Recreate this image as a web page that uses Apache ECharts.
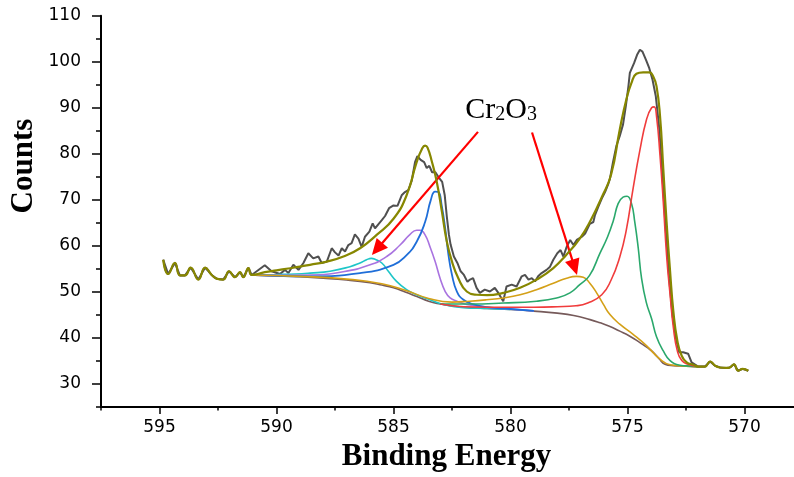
<!DOCTYPE html>
<html><head><meta charset="utf-8">
<script src="https://cdn.jsdelivr.net/npm/echarts@6.0.0/dist/echarts.min.js"></script>
<style>html,body{margin:0;padding:0;background:#fff;overflow:hidden;width:794px;height:477px}#c{width:803px;height:477px}</style>
</head><body><div id="c"></div>
<script>
// Experimental spectrum: flat tails (shared by envelope/background) and middle part
const leftTail = [[594.84,57.0],[594.63,53.9],[594.34,56.3],[594.13,53.6],[593.91,53.6],[593.67,55.3],[593.34,52.7],[593.05,55.3],[592.77,53.7],[592.56,52.9],[592.28,52.7],[592.03,54.5],[591.77,53.2],[591.56,54.3],[591.42,53.2],[591.2,55.2],[591.06,53.7]];
const rightTail = [[571.98,33.8],[571.69,33.8],[571.47,34.9],[571.26,34.0],[571.05,33.6],[570.77,33.5],[570.63,33.6],[570.45,34.3],[570.27,32.9],[570.08,33.3],[569.84,32.9]];
const spectrumMid = [[590.5,55.8],[590.21,54.5],[589.85,53.9],[589.64,54.8],[589.49,54.1],[589.28,55.9],[589.06,54.8],[588.85,56.3],[588.64,58.4],[588.43,57.3],[588.21,57.7],[588.07,56.3],[587.85,56.6],[587.64,59.5],[587.5,58.6],[587.35,57.9],[587.21,59.5],[587.07,58.8],[586.93,60.2],[586.79,60.6],[586.65,62.5],[586.5,61.6],[586.36,59.8],[586.22,62.0],[586.03,63.1],[585.89,64.9],[585.79,63.8],[585.65,64.7],[585.5,65.6],[585.36,66.5],[585.19,68.2],[585.0,68.8],[584.83,68.7],[584.65,71.0],[584.51,71.7],[584.37,72.1],[584.22,74.2],[584.08,78.2],[583.98,79.5],[583.84,78.7],[583.69,78.2],[583.58,76.9],[583.47,77.4],[583.35,76.0],[583.21,76.0],[583.07,74.9],[582.92,73.9],[582.81,71.0],[582.72,66.3],[582.63,62.4],[582.56,60.3],[582.42,57.7],[582.27,56.3],[582.13,54.5],[581.99,53.7],[581.84,52.2],[581.73,52.7],[581.6,53.0],[581.45,50.9],[581.31,49.8],[581.1,50.5],[580.88,50.1],[580.67,50.9],[580.52,49.8],[580.31,48.0],[580.17,51.2],[579.95,51.6],[579.74,51.2],[579.52,53.4],[579.38,53.7],[579.23,52.7],[579.09,53.0],[578.95,52.3],[578.82,53.4],[578.67,54.1],[578.46,54.8],[578.31,55.5],[578.17,57.0],[578.0,58.4],[577.86,59.1],[577.74,57.7],[577.6,59.8],[577.45,61.3],[577.31,60.2],[577.17,61.3],[576.95,62.0],[576.81,62.7],[576.61,64.8],[576.46,65.2],[576.39,66.7],[576.25,68.5],[576.1,70.3],[575.96,71.7],[575.82,73.5],[575.75,74.6],[575.62,78.2],[575.47,81.8],[575.33,83.9],[575.19,86.4],[575.07,90.4],[574.96,94.7],[574.9,97.6],[574.82,97.2],[574.72,99.7],[574.59,101.5],[574.47,102.6],[574.36,102.2],[574.21,100.4],[574.07,98.6],[573.93,96.1],[573.79,92.5],[573.64,85.4],[573.5,74.6],[573.37,63.8],[573.22,53.0],[573.08,45.1],[572.94,40.1],[572.79,36.9],[572.62,36.9],[572.41,36.6],[572.26,34.7]];
const envelopeMid = [[590.5,54.3],[590.0,54.7],[589.5,55.1],[589.0,55.5],[588.57,55.9],[587.85,56.6],[587.14,57.7],[586.43,59.5],[585.72,62.4],[585.0,65.9],[584.44,71.0],[584.01,78.2],[583.79,81.0],[583.65,81.8],[583.55,81.4],[583.37,78.5],[583.15,73.9],[582.93,67.4],[582.72,60.9],[582.5,56.6],[582.23,53.0],[581.87,50.1],[581.44,49.4],[581.0,49.3],[580.31,49.8],[579.59,50.9],[578.88,52.7],[578.17,55.2],[577.61,58.1],[577.04,61.6],[576.55,65.8],[576.1,70.6],[575.7,75.5],[575.33,85.3],[575.05,91.8],[574.83,95.4],[574.62,97.4],[574.33,97.7],[574.07,97.7],[573.9,96.8],[573.76,94.7],[573.61,88.2],[573.47,76.7],[573.33,65.2],[573.18,54.5],[573.04,45.8],[572.87,39.4],[572.68,36.1],[572.47,34.7],[572.18,34.2]];
const backgroundMid = [[590.0,53.5],[589.0,53.3],[588.0,53.0],[587.0,52.6],[586.0,52.0],[585.5,51.5],[585.0,50.9],[584.5,50.0],[584.0,49.0],[583.5,48.0],[583.0,47.4],[582.5,47.0],[582.0,46.7],[581.0,46.4],[580.0,46.2],[579.0,45.85],[578.0,45.4],[577.3,44.9],[576.6,44.0],[576.17,43.3],[575.8,42.6],[575.33,41.5],[574.9,40.4],[574.47,39.0],[574.15,37.9],[573.9,36.9],[573.65,35.5],[573.4,34.3],[573.05,34.0],[572.5,33.9]];
const peakCyan = [[591.06,53.7],[590.0,53.8],[589.2,53.9],[588.57,54.1],[587.71,54.5],[586.86,55.5],[586.43,56.3],[586.15,57.0],[585.95,57.3],[585.79,57.1],[585.5,56.3],[585.22,54.5],[584.87,52.3],[584.44,50.5],[584.01,49.4],[583.44,48.3],[582.86,47.3],[582.01,46.6],[581.0,46.4],[580.0,46.2]];
const peakPurple = [[591.06,53.7],[590.0,53.6],[588.57,53.7],[587.15,54.4],[586.0,55.9],[585.29,57.7],[584.72,60.2],[584.29,62.5],[584.01,63.4],[583.86,63.4],[583.65,62.4],[583.44,59.8],[583.22,56.6],[583.01,53.0],[582.79,50.1],[582.58,48.7],[582.29,48.0],[581.87,47.3],[581.0,46.7],[580.0,46.3],[579.0,45.9]];
const peakBlue = [[591.06,53.7],[590.0,53.5],[588.57,53.4],[586.43,54.1],[585.0,55.9],[584.44,58.0],[584.01,60.9],[583.65,65.2],[583.41,69.9],[583.22,71.8],[583.08,71.7],[582.94,68.8],[582.79,63.8],[582.65,58.0],[582.5,53.7],[582.29,50.1],[582.01,48.3],[581.58,47.3],[581.0,46.7],[580.0,46.3],[579.0,45.9]];
const peakGold = [[591.06,53.7],[589.0,53.4],[587.0,52.8],[585.5,51.8],[584.5,50.4],[583.5,48.6],[582.5,47.8],[581.74,48.0],[581.02,48.3],[580.31,48.7],[579.59,49.4],[578.89,50.5],[578.17,51.9],[577.6,53.0],[577.18,53.4],[576.89,53.2],[576.61,51.9],[576.32,49.8],[576.03,47.3],[575.75,45.1],[575.33,43.0],[574.76,40.8],[574.18,38.3],[573.61,35.4],[573.18,34.2],[572.5,33.9],[571.98,33.8]];
const peakGreen = [[583.0,47.4],[581.74,47.4],[580.31,47.6],[578.89,48.0],[578.03,48.7],[577.46,49.8],[577.04,51.6],[576.62,53.6],[576.18,58.4],[575.85,62.0],[575.6,65.6],[575.4,69.2],[575.19,70.6],[575.02,70.8],[574.83,69.2],[574.69,65.2],[574.54,59.5],[574.4,53.0],[574.2,47.8],[573.97,44.2],[573.76,40.3],[573.47,37.2],[573.18,35.1],[572.76,34.1],[572.3,33.9],[571.98,33.8]];
const peakRed = [[583.0,47.4],[582.0,46.8],[581.0,46.7],[580.0,46.7],[579.0,46.7],[578.0,46.8],[577.2,47.0],[576.7,47.6],[576.1,49.4],[575.7,52.6],[575.33,57.6],[575.05,63.5],[574.76,72.5],[574.47,80.8],[574.19,87.4],[573.97,90.0],[573.86,90.2],[573.76,88.2],[573.61,79.6],[573.47,69.5],[573.33,58.0],[573.18,49.4],[573.04,42.3],[572.87,37.2],[572.68,35.1],[572.41,34.3],[571.98,33.8]];
// Annotation (data coordinates)
const annotationText = 'Cr{s|2}O{s|3}';
const annotationPos = [580.4, 86.3];
const arrowLeft = [[581.39, 84.77], [585.70, 59.35]];
const arrowRight = [[579.08, 84.64], [577.26, 55.36]];

const spectrum = leftTail.concat(spectrumMid, rightTail);
const envelope = leftTail.concat(envelopeMid, rightTail);
const background = leftTail.concat(backgroundMid, rightTail);

function curve(name, data, color, width, smooth, z) {
  return {type:'line', name, data, symbol:'none', smooth,
    lineStyle:{color, width}, itemStyle:{color}, silent:true, z, xAxisIndex:0, yAxisIndex:0};
}
const chart = echarts.init(document.getElementById('c'), null, {renderer:'canvas', width:803, height:477});
const labelFont = {fontFamily:'"DejaVu Sans", sans-serif', fontSize:17, color:'#000'};
const gray = curve('Data', spectrum, '#505050', 2, false, 2);
gray.markLine = {
  silent:true, symbol:['none','triangle'], symbolSize:[15,16], label:{show:false},
  lineStyle:{color:'#ff0000', width:2.2, type:'solid'},
  emphasis:{disabled:true},
  data:[[{coord:arrowLeft[0]},{coord:arrowLeft[1]}],[{coord:arrowRight[0]},{coord:arrowRight[1]}]]
};
gray.markPoint = {
  silent:true, symbol:'circle', symbolSize:0, itemStyle:{color:'transparent'},
  data:[{coord:annotationPos}],
  label:{show:true, position:'inside', formatter:annotationText, color:'#000',
    fontFamily:'"Liberation Serif", serif', fontSize:30, lineHeight:30, verticalAlign:'bottom',
    rich:{s:{fontFamily:'"Liberation Serif", serif', fontSize:20, lineHeight:16, verticalAlign:'bottom', color:'#000'}}}
};
chart.setOption({
  animation:false,
  backgroundColor:'#fff',
  grid:{left:101, right:0, top:15.7, bottom:67.1, containLabel:false},
  xAxis:[{
    type:'value', position:'bottom', inverse:true, min:567.5, max:597.5, splitNumber:6,
    name:'Binding Energy', nameLocation:'middle', nameGap:33,
    nameTextStyle:{fontFamily:'"Liberation Serif", serif', fontWeight:'bold', fontSize:31, color:'#000', padding:[0,11,0,0]},
    axisLine:{show:true, onZero:false, lineStyle:{color:'#000', width:2}},
    axisTick:{show:true, length:7, lineStyle:{color:'#000', width:1.5}},
    axisLabel:Object.assign({margin:12, showMinLabel:false, showMaxLabel:false}, labelFont),
    splitLine:{show:false}
  },{
    type:'value', position:'bottom', inverse:true, min:567.5, max:597.5, interval:2.5,
    axisLine:{show:false}, axisTick:{show:true, length:3.5, lineStyle:{color:'#000', width:1.5}},
    axisLabel:{show:false}, splitLine:{show:false}
  }],
  yAxis:[{
    type:'value', position:'left', min:25, max:110, splitNumber:8,
    axisLine:{show:true, onZero:false, lineStyle:{color:'#000', width:2}},
    axisTick:{show:true, length:9, lineStyle:{color:'#000', width:1.5}},
    axisLabel:Object.assign({margin:20, showMinLabel:false, showMaxLabel:true}, labelFont),
    splitLine:{show:false}
  },{
    type:'value', position:'left', min:25, max:110, interval:5,
    axisLine:{show:false}, axisTick:{show:true, length:5, lineStyle:{color:'#000', width:1.5}},
    axisLabel:{show:false}, splitLine:{show:false}
  }],
  graphic:[{type:'text', x:24, y:166, rotation:Math.PI/2, silent:true,
    style:{text:'Counts', font:'bold 31px "Liberation Serif"', fill:'#000', textAlign:'center', textVerticalAlign:'middle', align:'center', verticalAlign:'middle'}}],
  series:[
    gray,
    curve('Background', background, '#765a5a', 1.6, 0.5, 3),
    curve('Peak 6', peakCyan, '#1ec6c8', 1.6, 0.5, 4),
    curve('Peak 5', peakPurple, '#a973e0', 1.6, 0.5, 4),
    curve('Peak 4', peakBlue, '#1f6ed8', 1.8, 0.5, 4),
    curve('Cr2O3 sat', peakGold, '#d4a017', 1.6, 0.5, 4),
    curve('Peak 2', peakGreen, '#2aa86c', 1.6, 0.5, 4),
    curve('Peak 1', peakRed, '#f03c3c', 1.6, 0.5, 4),
    curve('Envelope', envelope, '#878700', 2.2, 0.5, 5)
  ]
});
</script></body></html>
